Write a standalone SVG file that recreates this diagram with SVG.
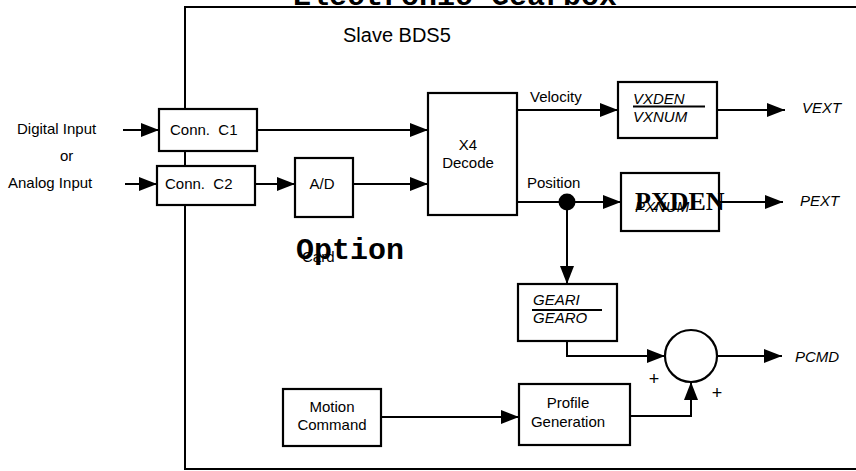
<svg xmlns="http://www.w3.org/2000/svg" width="856" height="471" viewBox="0 0 856 471">
<style>
.box{fill:#fff;stroke:#000;stroke-width:2.2}
.ln{fill:none;stroke:#000;stroke-width:2}
.t{font-family:"Liberation Sans",Arial,sans-serif;font-size:15px;fill:#000}
.i{font-style:italic}
.m{text-anchor:middle}
.mono{font-family:"Liberation Mono","Courier New",monospace;font-weight:bold;font-size:30px;fill:#000}
</style>
<defs>
<marker id="ah" markerUnits="userSpaceOnUse" markerWidth="18" markerHeight="14" refX="18" refY="7" orient="auto">
<path d="M0,0 L18,7 L0,14 z" fill="#000"/>
</marker>
</defs>
<rect width="856" height="471" fill="#fff"/>
<g id="frame">
<path class="ln" d="M856,7 H185 V469 H856"/>
<text class="mono" x="293" y="4.5">Electronic Gearbox</text>
<text class="t" x="343" y="42" style="font-size:20px">Slave BDS5</text>
</g>
<g id="inputs">
<text class="t" x="17" y="134">Digital Input</text>
<text class="t" x="60" y="161">or</text>
<text class="t" x="8" y="188">Analog Input</text>
</g>
<g id="connectors">
<path class="ln" d="M123,130 H159" marker-end="url(#ah)"/>
<path class="ln" d="M125,184 H157" marker-end="url(#ah)"/>
<path class="ln" d="M257,130 H428" marker-end="url(#ah)"/>
<path class="ln" d="M255,184 H295" marker-end="url(#ah)"/>
<path class="ln" d="M353,184 H428" marker-end="url(#ah)"/>
<path class="ln" d="M517,110 H618" marker-end="url(#ah)"/>
<path class="ln" d="M717,110 H785" marker-end="url(#ah)"/>
<path class="ln" d="M517,202 H621" marker-end="url(#ah)"/>
<path class="ln" d="M719,202 H783" marker-end="url(#ah)"/>
<path class="ln" d="M567,202 V284" marker-end="url(#ah)"/>
<path class="ln" d="M567,341 V356 H665" marker-end="url(#ah)"/>
<path class="ln" d="M717,356 H782" marker-end="url(#ah)"/>
<path class="ln" d="M381,417 H519" marker-end="url(#ah)"/>
<path class="ln" d="M630,416 H691 V382" marker-end="url(#ah)"/>
<circle cx="567" cy="202" r="8.5" fill="#000"/>
<text class="t" x="530" y="102">Velocity</text>
<text class="t" x="527" y="188">Position</text>
<text class="t i" x="802" y="113">VEXT</text>
<text class="t i" x="800" y="206">PEXT</text>
<text class="t i" x="795" y="362">PCMD</text>
</g>
<g id="connC1">
<rect class="box" x="159" y="109" width="98" height="42"/>
<text class="t" x="170" y="135" xml:space="preserve">Conn.  C1</text>
</g>
<g id="connC2">
<rect class="box" x="157" y="166" width="98" height="39"/>
<text class="t" x="165" y="189" xml:space="preserve">Conn.  C2</text>
</g>
<g id="ad">
<rect class="box" x="295" y="158" width="58" height="59"/>
<text class="t m" x="322" y="189">A/D</text>
</g>
<g id="option">
<text class="t" x="302" y="262">Card</text>
<text class="mono" x="296" y="259">Option</text>
</g>
<g id="x4decode">
<rect class="box" x="428" y="93" width="89" height="122"/>
<text class="t m" x="468" y="150">X4</text>
<text class="t m" x="468" y="168">Decode</text>
</g>
<g id="vxden">
<rect class="box" x="618" y="82" width="99" height="56"/>
<text class="t i" x="633" y="104">VXDEN</text>
<line x1="633" y1="106.5" x2="705" y2="106.5" stroke="#000" stroke-width="2"/>
<text class="t i" x="633" y="122">VXNUM</text>
</g>
<g id="pxden">
<rect class="box" x="621" y="173" width="98" height="58"/>
<text class="t i" x="635" y="212">PXNUM</text>
<text x="635" y="210" style="font-family:'Liberation Serif','Times New Roman',serif;font-weight:bold;font-size:26px;fill:#000">PXDEN</text>
</g>
<g id="gear">
<rect class="box" x="518" y="284" width="99" height="57"/>
<text class="t i" x="533" y="305">GEARI</text>
<line x1="532" y1="310" x2="602" y2="310" stroke="#000" stroke-width="2"/>
<text class="t i" x="533" y="323">GEARO</text>
</g>
<g id="sum">
<circle cx="691" cy="356" r="26" class="box"/>
<text class="t m" x="654" y="385" style="font-size:18px">+</text>
<text class="t m" x="717" y="399" style="font-size:18px">+</text>
</g>
<g id="motion">
<rect class="box" x="283" y="389" width="98" height="57"/>
<text class="t m" x="332" y="412">Motion</text>
<text class="t m" x="332" y="430">Command</text>
</g>
<g id="profile">
<rect class="box" x="519" y="384" width="111" height="61"/>
<text class="t m" x="568" y="408">Profile</text>
<text class="t m" x="568" y="427">Generation</text>
</g>
</svg>
